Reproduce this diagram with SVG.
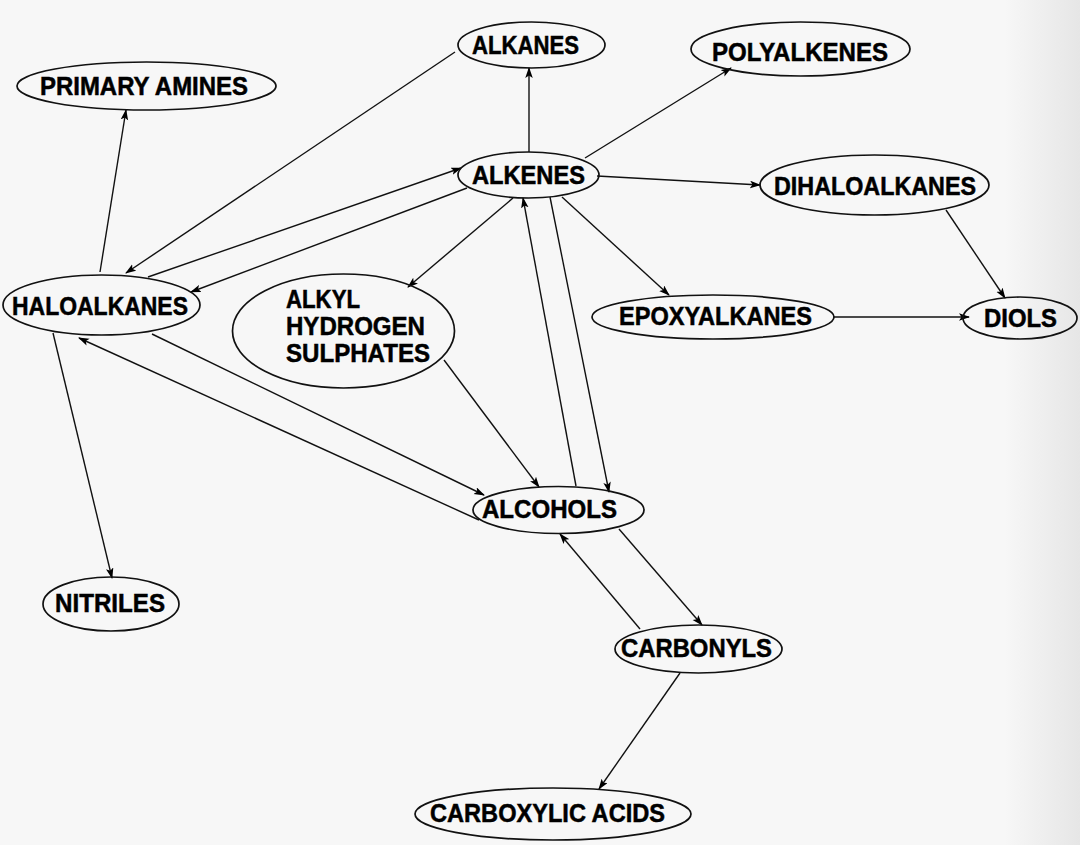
<svg xmlns="http://www.w3.org/2000/svg" width="1080" height="845" viewBox="0 0 1080 845">
<defs>
<marker id="arr" markerWidth="12" markerHeight="8" refX="10" refY="3.75" orient="auto" markerUnits="userSpaceOnUse">
<path d="M0,0 L11,3.75 L0,7.5 L2.5,3.75 z" fill="#000"/>
</marker>
<linearGradient id="edge" x1="0" y1="0" x2="1" y2="0">
<stop offset="0" stop-color="#f7f7f7"/>
<stop offset="0.93" stop-color="#f7f7f7"/>
<stop offset="1" stop-color="#e6e6e6"/>
</linearGradient>
<style>
.n ellipse{fill:none;stroke:#111;stroke-width:1.7}
.n text{font-family:"Liberation Sans",Arial,sans-serif;font-weight:bold;font-size:25px;fill:#000;stroke:#000;stroke-width:0.5}
.e line{stroke:#111;stroke-width:1.4;marker-end:url(#arr)}
</style>
</defs>
<rect width="1080" height="845" fill="url(#edge)"/>
<g class="e" id="connectors">
<line x1="100" y1="272" x2="126" y2="110"/>
<line x1="455" y1="52" x2="126" y2="273"/>
<line x1="148" y1="277" x2="461" y2="168"/>
<line x1="467" y1="188" x2="191" y2="292"/>
<line x1="529" y1="152" x2="529" y2="68"/>
<line x1="513" y1="198" x2="408" y2="287"/>
<line x1="576" y1="486" x2="523" y2="198"/>
<line x1="550" y1="197" x2="609" y2="492"/>
<line x1="585" y1="158" x2="731" y2="68"/>
<line x1="597" y1="176" x2="760" y2="185"/>
<line x1="562" y1="197" x2="669" y2="295"/>
<line x1="946" y1="210" x2="1005" y2="298"/>
<line x1="834" y1="317" x2="969" y2="317"/>
<line x1="152" y1="334" x2="484" y2="495"/>
<line x1="479" y1="520" x2="79" y2="338"/>
<line x1="53" y1="333" x2="112" y2="578"/>
<line x1="444" y1="360" x2="539" y2="487"/>
<line x1="619" y1="529" x2="702" y2="625"/>
<line x1="640" y1="629" x2="560" y2="534"/>
<line x1="680" y1="673" x2="599" y2="789"/>
</g>
<g class="n" id="primary-amines"><ellipse cx="146.5" cy="86" rx="129.5" ry="24"/><text x="40" y="95" textLength="208" lengthAdjust="spacingAndGlyphs">PRIMARY AMINES</text></g>
<g class="n" id="alkanes"><ellipse cx="531.5" cy="45" rx="73.5" ry="23"/><text x="472" y="54" textLength="107" lengthAdjust="spacingAndGlyphs">ALKANES</text></g>
<g class="n" id="polyalkenes"><ellipse cx="800.5" cy="49" rx="109.5" ry="27"/><text x="712" y="61" textLength="176" lengthAdjust="spacingAndGlyphs">POLYALKENES</text></g>
<g class="n" id="alkenes"><ellipse cx="528.5" cy="175" rx="70.5" ry="23"/><text x="472" y="184" textLength="113" lengthAdjust="spacingAndGlyphs">ALKENES</text></g>
<g class="n" id="dihaloalkanes"><ellipse cx="874.5" cy="185" rx="114.5" ry="30"/><text x="774" y="195" textLength="202" lengthAdjust="spacingAndGlyphs">DIHALOALKANES</text></g>
<g class="n" id="haloalkanes"><ellipse cx="101.5" cy="305" rx="98.5" ry="30"/><text x="12" y="315" textLength="176" lengthAdjust="spacingAndGlyphs">HALOALKANES</text></g>
<g class="n" id="alkyl-hydrogen-sulphates"><ellipse cx="343.5" cy="331" rx="111" ry="57"/><text x="286" y="308" textLength="74" lengthAdjust="spacingAndGlyphs">ALKYL</text><text x="286" y="335" textLength="139" lengthAdjust="spacingAndGlyphs">HYDROGEN</text><text x="286" y="362" textLength="144" lengthAdjust="spacingAndGlyphs">SULPHATES</text></g>
<g class="n" id="epoxyalkanes"><ellipse cx="713" cy="317" rx="121" ry="22"/><text x="619" y="325" textLength="193" lengthAdjust="spacingAndGlyphs">EPOXYALKANES</text></g>
<g class="n" id="diols"><ellipse cx="1020" cy="318" rx="57" ry="21"/><text x="984" y="327" textLength="73" lengthAdjust="spacingAndGlyphs">DIOLS</text></g>
<g class="n" id="alcohols"><ellipse cx="558.5" cy="510" rx="85.5" ry="23.5"/><text x="482" y="518" textLength="135" lengthAdjust="spacingAndGlyphs">ALCOHOLS</text></g>
<g class="n" id="nitriles"><ellipse cx="111" cy="604" rx="68" ry="27"/><text x="55" y="612" textLength="110" lengthAdjust="spacingAndGlyphs">NITRILES</text></g>
<g class="n" id="carbonyls"><ellipse cx="698.5" cy="649" rx="83.5" ry="24"/><text x="621" y="657" textLength="151" lengthAdjust="spacingAndGlyphs">CARBONYLS</text></g>
<g class="n" id="carboxylic-acids"><ellipse cx="553" cy="814" rx="138" ry="26"/><text x="430" y="822" textLength="235" lengthAdjust="spacingAndGlyphs">CARBOXYLIC ACIDS</text></g>
</svg>
